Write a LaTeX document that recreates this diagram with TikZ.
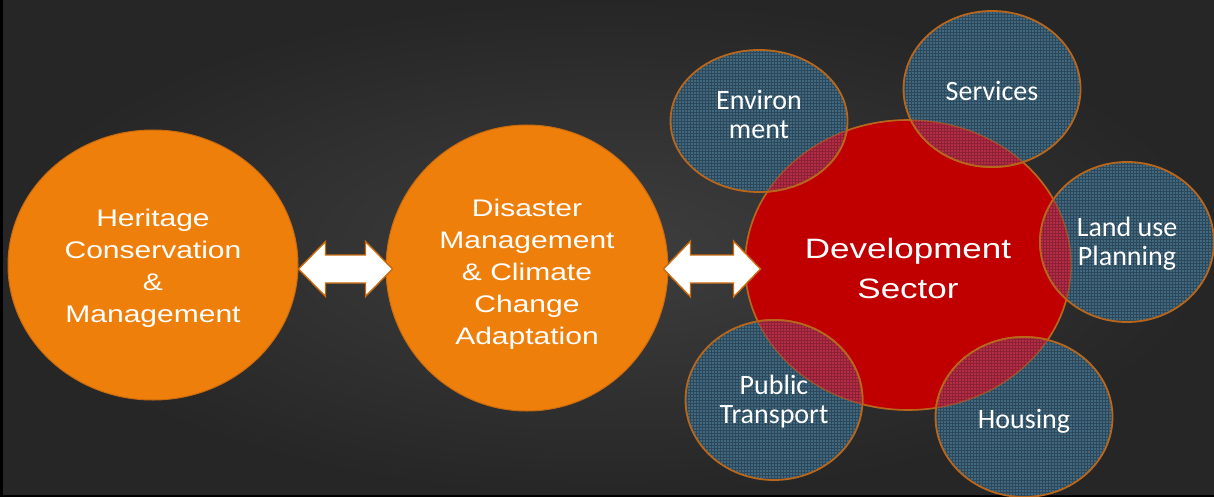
\documentclass[tikz,border=0pt]{standalone}
\usepackage{fontspec}
\usepackage{tikz}
\usetikzlibrary{shapes.geometric,calc}
\newfontfamily\hubfont[FakeStretch=1.25]{Liberation Sans}
\newfontfamily\topicfont{Carlito}
\definecolor{DMBgIn}{HTML}{3E3E3E}
\definecolor{DMBgOut}{HTML}{262626}
\definecolor{DMOrange}{HTML}{EE7F0B}
\definecolor{DMOrangeEdge}{HTML}{C96A0E}
\definecolor{DMRed}{HTML}{C00000}
\definecolor{DMBrown}{HTML}{B8661C}
\definecolor{DMBlue}{HTML}{40687F}
\definecolor{DMBlueGrid}{HTML}{2C485A}
\definecolor{DMPink}{HTML}{B42C46}
\definecolor{DMPinkGrid}{HTML}{8C2034}

\begin{document}
\begin{tikzpicture}[
  x=1pt,y=-1pt,
  hub/.style={ellipse,draw=DMOrangeEdge,fill=DMOrange,line width=1pt,
    inner sep=0pt},
  sector/.style={ellipse,draw=DMBrown,fill=DMRed,line width=1.6pt,
    inner sep=0pt},
  topic/.style={ellipse,draw=DMBrown,fill=DMBlue,line width=1.8pt,
    inner sep=0pt,
    path picture={\draw[DMBlueGrid,line width=0.7pt]
      (path picture bounding box.south west) grid[step=3pt]
      (path picture bounding box.north east);}},
  overlap/.style={topic,fill=DMPink,
    path picture={\draw[DMPinkGrid,line width=0.7pt]
      (path picture bounding box.south west) grid[step=3pt]
      (path picture bounding box.north east);}},
  hubtext/.style={align=center,text=white,
    font=\hubfont\fontsize{24}{32}\selectfont},
  sectortext/.style={align=center,text=white,
    font=\hubfont\fontsize{28}{40}\selectfont},
  topictext/.style={align=center,text=white,
    font=\topicfont\fontsize{28}{29}\selectfont},
  link/.style={draw=DMOrangeEdge,fill=white,line width=1.4pt,
    line join=miter}
]

% slide frame, pixel grid of the screenshot (y runs downwards)
\useasboundingbox (0,0) rectangle (1214,497);
\clip (0,0) rectangle (1214,497);
\shade[inner color=DMBgIn,outer color=DMBgOut] (0,0) rectangle (1214,497);
\fill[black] (0,0) rectangle (3,497);
\fill[black] (0,495) rectangle (1214,497);

\node[hub,minimum width=290pt,minimum height=270pt,
  label={[hubtext,yshift=-3.5pt]center:Heritage\\Conservation\\\&\\Management}]
  (heritage) at (153,265) {};
\node[hub,minimum width=282pt,minimum height=286pt,
  label={[hubtext,yshift=-6.5pt]center:Disaster\\Management\\\& Climate\\Change\\Adaptation}]
  (disaster) at (527,268) {};

\node[sector,minimum width=326pt,minimum height=290pt,
  label={[sectortext,yshift=-3pt]center:Development\\Sector}]
  (sector) at (908,265) {};

\node[topic,minimum width=177pt,minimum height=142pt,
  label={[topictext,yshift=7pt]center:Environ\\ment}] (env) at (759,121) {};
\node[topic,minimum width=177pt,minimum height=156pt,
  label={[topictext,yshift=-1.5pt]center:Services}] (serv) at (992,89) {};
\node[topic,minimum width=174pt,minimum height=160pt,
  label={[topictext,yshift=-2pt]center:Land use\\Planning}] (land) at (1127,242) {};
\node[topic,minimum width=177pt,minimum height=160pt,
  label={[topictext,yshift=-2pt]center:Public\\Transport}] (pub) at (774,400) {};
\node[topic,minimum width=177pt,minimum height=160pt,
  label={[topictext,yshift=-4pt]center:Housing}] (hous) at (1024,417) {};

% parts of the small circles that lie on the red one
\begin{scope}
  \clip (sector.center) ellipse [x radius=163pt,y radius=145pt];
  \foreach \n/\w/\h in {env/177/142,serv/177/156,land/174/160,
                        pub/177/160,hous/177/160}
    \node[overlap,minimum width=\w pt,minimum height=\h pt] at (\n) {};
\end{scope}
\draw[DMBrown,line width=1.4pt,draw opacity=0.55]
  (sector.center) ellipse [x radius=163pt,y radius=145pt];

% two-way arrows
\draw[link] ([yshift=-4pt]heritage.east) -- ++(27,-27.5) -- ++(0,13.5)
  -- ++(40,0) -- ++(0,-13.5) -- ++(27,27.5) -- ++(-27,27.5)
  -- ++(0,-13.5) -- ++(-40,0) -- ++(0,13.5) -- cycle;
\draw[link] ([xshift=-5pt,yshift=-1pt]disaster.east) -- ++(27,-28)
  -- ++(0,14) -- ++(43,0) -- ++(0,-14) -- ++(27,28) -- ++(-27,28)
  -- ++(0,-14) -- ++(-43,0) -- ++(0,14) -- cycle;

\end{tikzpicture}
\end{document}
